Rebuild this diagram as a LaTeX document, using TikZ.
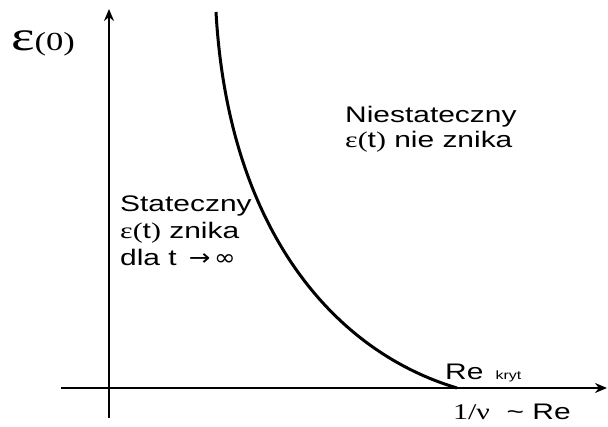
\documentclass[tikz,border=0pt]{standalone}
\usepackage{fontspec}
\setmainfont{Liberation Sans}[FakeStretch=1.33]
\newfontfamily\serifw{Liberation Serif}[FakeStretch=1.33]
\newfontfamily\symw{DejaVu Sans}[FakeStretch=1.15]
\usetikzlibrary{arrows.meta}
\tikzset{
  axis/.style={line width=1.4pt,-{Stealth[length=12pt,width=10pt]}},
  curve/.style={line width=3pt},
  lbl/.style={anchor=base west,inner sep=0pt,font=\fontsize{22.5}{22.5}\selectfont},
}
\begin{document}
\begin{tikzpicture}[x=1pt,y=-1pt]
\useasboundingbox (0,0) rectangle (608,427);
\coordinate (ybot) at (109,418);
\coordinate (ytop) at (109,9);
\coordinate (xl) at (61,388);
\coordinate (xr) at (607,388);
\coordinate (cstart) at (216,12);
\coordinate (cend) at (457,388);
\draw[axis] (ybot) -- (ytop);
\draw[axis] (xl) -- (xr);
\draw[curve] (cstart) .. controls (228,225) and (330,350) .. (cend);
\node[lbl] (eps0) at (11,51) {{\serifw\fontsize{42}{42}\selectfont ε}{\serifw\fontsize{26}{26}\selectfont(0)}};
\node[lbl] (n1) at (345,123) {Niestateczny};
\node[lbl] (n2) at (345,148) {{\serifw ε(}t{\serifw )} nie znika};
\node[lbl] (s1) at (120,212) {Stateczny};
\node[lbl] (s2) at (120,239) {{\serifw ε(}t{\serifw )} znika};
\node[lbl] (s3) at (120,266) {dla t \,{\symw →\,∞}};
\node[lbl] (re) at (445,380) {Re \,{\fontsize{12}{12}\selectfont kryt}};
\node[lbl] (ax) at (453,420) {{\serifw 1/ν}\ \ \textasciitilde\ Re};
\end{tikzpicture}
\end{document}
